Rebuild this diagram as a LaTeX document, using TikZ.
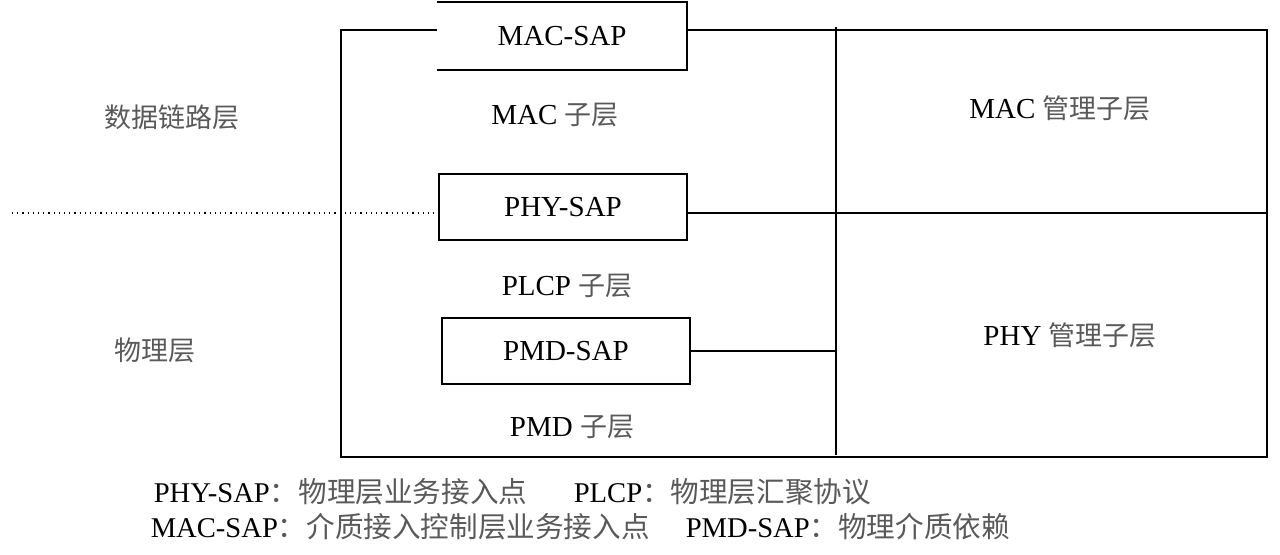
\documentclass[tikz,border=0pt]{standalone}
\usepackage{fontspec}
\setmainfont{Liberation Serif}
\newfontfamily\cjk[Scale=0.93]{Noto Sans CJK SC}
\newfontfamily\cjknote{Noto Sans CJK SC}
\newcommand{\zhtext}[1]{{\cjk\color{black!65}#1}}
\newcommand{\zhnote}[1]{{\cjknote\color{black!65}#1}}
\usetikzlibrary{positioning}

\tikzset{
  sapbox/.style={minimum width=124pt, minimum height=33pt, inner sep=0pt, font=\fontsize{14.5}{17}\selectfont},
  layer/.style={inner sep=0pt, font=\fontsize{14.5}{17}\selectfont},
  note/.style={inner sep=0pt, anchor=west, font=\fontsize{14.3}{17}\selectfont}
}

\begin{document}
\begin{tikzpicture}[x=0.5pt, y=-0.5pt, line width=0.8pt]

\useasboundingbox (0,0) rectangle (1280,555);

\coordinate (tl) at (341,30);
\coordinate (br) at (1267,457);
\coordinate (divtop) at (836,27);
\coordinate (divbot) at (836,455);
\coordinate (split) at (12,213);

% service access points
\node[sapbox] (macsap) at (562,36) {MAC-SAP};
\node[sapbox, draw] (physap) at (563,207) {PHY-SAP};
\node[sapbox, draw] (pmdsap) at (566,351) {PMD-SAP};

\draw (macsap.north west) -- (macsap.north east) -- (macsap.south east) -- (macsap.south west);

% outer frame
\draw (macsap.west |- tl) -- (tl) |- (br) |- (macsap.east |- tl);
\draw (divtop) -- (divbot);

\draw[dotted, line width=0.6pt] (split) -- (physap.west |- split);
\draw (physap.east |- split) -- (br |- split);
\draw (pmdsap.east) -- (pmdsap.east -| divtop);

% sublayers
\node[layer] (mac) at (555,115) {MAC \zhtext{子层}};
\node[layer] (plcp) at (567,286) {PLCP \zhtext{子层}};
\node[layer] (pmd) at (572,427) {PMD \zhtext{子层}};

\node[layer] (macmgmt) at (1060,108) {MAC \zhtext{管理子层}};
\node[layer] (phymgmt) at (1070,335) {PHY \zhtext{管理子层}};

\node[layer] (dll) at (172,117) {\zhtext{数据链路层}};
\node[layer] (phy) at (155,350) {\zhtext{物理层}};

% legend
\node[note] (n1) at (153,492) {PHY-SAP\zhnote{：物理层业务接入点}};
\node[note] (n2) at (573,492) {PLCP\zhnote{：物理层汇聚协议}};
\node[note] (n3) at (150,527) {MAC-SAP\zhnote{：介质接入控制层业务接入点}};
\node[note] (n4) at (685,527) {PMD-SAP\zhnote{：物理介质依赖}};

\end{tikzpicture}
\end{document}
